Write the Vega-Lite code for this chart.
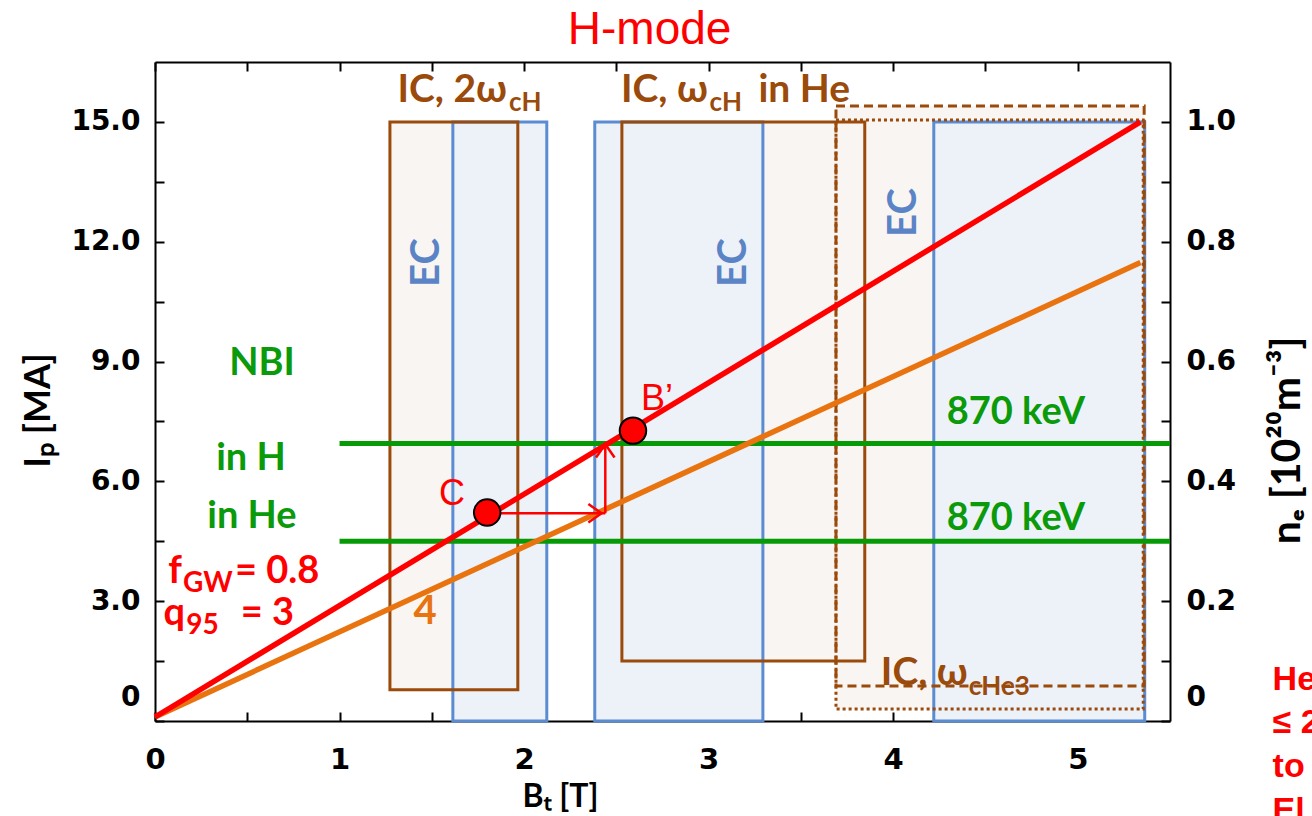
{
  "$schema": "https://vega.github.io/schema/vega-lite/v6.json",
  "width": 1015,
  "height": 659,
  "autosize": {"type": "none"},
  "padding": {"left": 155, "top": 62, "right": 142, "bottom": 95},
  "background": "white",
  "config": {"view": {"stroke": null}},
  "datasets": {
    "icFill": [
      {"x1": 1.273, "x2": 1.966, "y1": 0.78, "y2": 15.0},
      {"x1": 2.53, "x2": 3.846, "y1": 1.5, "y2": 15.0},
      {"x1": 3.69, "x2": 5.36, "y1": 0.3, "y2": 15.4}
    ],
    "ec": [
      {"x1": 1.614, "x2": 2.123, "y1": 0, "y2": 15.0},
      {"x1": 2.383, "x2": 3.294, "y1": 0, "y2": 15.0},
      {"x1": 4.22, "x2": 5.363, "y1": 0, "y2": 15.0}
    ],
    "icLine": [
      {"x1": 1.273, "x2": 1.966, "y1": 0.78, "y2": 15.0},
      {"x1": 2.53, "x2": 3.846, "y1": 1.5, "y2": 15.0}
    ],
    "icDash": [{"x1": 3.69, "x2": 5.36, "y1": 0.875, "y2": 15.4}],
    "icDot": [{"x1": 3.69, "x2": 5.355, "y1": 0.3, "y2": 15.05}],
    "nbi": [
      {"x1": 1.0, "x2": 5.5, "y": 6.95},
      {"x1": 1.0, "x2": 5.5, "y": 4.5}
    ],
    "redLine": [{"x": 0, "y": 0.1}, {"x": 5.34, "y": 15.0}],
    "orangeLine": [{"x": 0, "y": 0.1}, {"x": 5.34, "y": 11.48}],
    "arrowSeg": [
      {"x1": 1.8, "x2": 2.44, "y1": 5.2, "y2": 5.2},
      {"x1": 2.44, "x2": 2.44, "y1": 5.2, "y2": 6.9}
    ],
    "arrowRight": [{"x": 2.42, "y": 5.2}],
    "arrowUp": [{"x": 2.44, "y": 6.93}],
    "points": [{"x": 1.80, "y": 5.22}, {"x": 2.59, "y": 7.27}],
    "titleText": [{"x": 2.68, "y": 16.96, "t": "H-mode"}],
    "brownMainR": [
      {"x": 1.907, "y": 15.5, "t": "IC, 2ω"},
      {"x": 2.996, "y": 15.5, "t": "IC, ω"},
      {"x": 4.404, "y": 0.9, "t": "IC, ω"}
    ],
    "brownMainL": [{"x": 3.27, "y": 15.5, "t": "in He"}],
    "brownSub": [
      {"x": 1.918, "y": 15.28, "t": "cH"},
      {"x": 3.005, "y": 15.28, "t": "cH"},
      {"x": 4.41, "y": 0.65, "t": "cHe3"}
    ],
    "ecText": [
      {"x": 1.473, "y": 11.48, "t": "EC"},
      {"x": 3.14, "y": 11.48, "t": "EC"},
      {"x": 4.06, "y": 12.73, "t": "EC"}
    ],
    "greenText": [
      {"x": 0.58, "y": 8.95, "t": "NBI"},
      {"x": 0.52, "y": 6.55, "t": "in H"},
      {"x": 0.525, "y": 5.1, "t": "in He"},
      {"x": 4.665, "y": 7.72, "t": "870 keV"},
      {"x": 4.665, "y": 5.07, "t": "870 keV"}
    ],
    "redMainR": [
      {"x": 0.146, "y": 3.45, "t": "f"},
      {"x": 0.1625, "y": 2.4, "t": "q"}
    ],
    "redSub": [
      {"x": 0.152, "y": 3.22, "t": "GW"},
      {"x": 0.17, "y": 2.175, "t": "95"}
    ],
    "redMainL": [
      {"x": 0.433, "y": 3.45, "t": "= 0.8"},
      {"x": 0.465, "y": 2.4, "t": "= 3"}
    ],
    "orangeText": [{"x": 1.463, "y": 2.73, "t": "4"}],
    "pointText": [
      {"x": 1.61, "y": 5.68, "t": "C"},
      {"x": 2.72, "y": 8.07, "t": "B’"}
    ],
    "sideText": [
      {"x": 6.056, "y": 0.775, "t": "He"},
      {"x": 6.056, "y": -0.3, "t": "≤ 2"},
      {"x": 6.056, "y": -1.4, "t": "to"},
      {"x": 6.056, "y": -2.5, "t": "El"}
    ]
  },
  "layer": [
    {
      "data": {"name": "icFill"},
      "mark": {"type": "rect", "fill": "#f9f5f2", "strokeWidth": 0},
      "encoding": {
        "x": {"field": "x1", "type": "quantitative", "scale": {"domain": [0, 5.5]}, "axis": null},
        "x2": {"field": "x2"},
        "y": {"field": "y1", "type": "quantitative", "scale": {"domain": [0, 16.5]}, "axis": null},
        "y2": {"field": "y2"}
      }
    },
    {
      "data": {"name": "ec"},
      "mark": {"type": "rect", "fill": "#edf1f8", "stroke": "#5b8cd2", "strokeWidth": 3},
      "encoding": {
        "x": {"field": "x1", "type": "quantitative", "scale": {"domain": [0, 5.5]}, "axis": null},
        "x2": {"field": "x2"},
        "y": {"field": "y1", "type": "quantitative", "scale": {"domain": [0, 16.5]}, "axis": null},
        "y2": {"field": "y2"}
      }
    },
    {
      "data": {"name": "icLine"},
      "mark": {"type": "rect", "fill": null, "fillOpacity": 0, "stroke": "#9a4a0a", "strokeWidth": 3},
      "encoding": {
        "x": {"field": "x1", "type": "quantitative", "scale": {"domain": [0, 5.5]}, "axis": null},
        "x2": {"field": "x2"},
        "y": {"field": "y1", "type": "quantitative", "scale": {"domain": [0, 16.5]}, "axis": null},
        "y2": {"field": "y2"}
      }
    },
    {
      "data": {"name": "icDash"},
      "mark": {"type": "rect", "fill": null, "fillOpacity": 0, "stroke": "#9a4a0a", "strokeWidth": 3, "strokeDash": [9, 5]},
      "encoding": {
        "x": {"field": "x1", "type": "quantitative", "scale": {"domain": [0, 5.5]}, "axis": null},
        "x2": {"field": "x2"},
        "y": {"field": "y1", "type": "quantitative", "scale": {"domain": [0, 16.5]}, "axis": null},
        "y2": {"field": "y2"}
      }
    },
    {
      "data": {"name": "icDot"},
      "mark": {"type": "rect", "fill": null, "fillOpacity": 0, "stroke": "#9a4a0a", "strokeWidth": 3, "strokeDash": [3, 3]},
      "encoding": {
        "x": {"field": "x1", "type": "quantitative", "scale": {"domain": [0, 5.5]}, "axis": null},
        "x2": {"field": "x2"},
        "y": {"field": "y1", "type": "quantitative", "scale": {"domain": [0, 16.5]}, "axis": null},
        "y2": {"field": "y2"}
      }
    },
    {
      "data": {"name": "nbi"},
      "mark": {"type": "rule", "color": "#079a07", "strokeWidth": 5},
      "encoding": {
        "x": {"field": "x1", "type": "quantitative", "scale": {"domain": [0, 5.5]},
          "axis": {"orient": "bottom", "values": [0, 0.5, 1, 1.5, 2, 2.5, 3, 3.5, 4, 4.5, 5],
            "labelExpr": "datum.value % 1 === 0 ? format(datum.value, 'd') : ''",
            "labelFont": "DejaVu Sans", "labelFontWeight": "bold", "labelFontSize": 29, "labelColor": "black",
            "labelPadding": 33, "labelOverlap": false, "labelFlush": false,
            "tickSize": -9, "tickWidth": 2, "tickColor": "black", "domainColor": "black", "domainWidth": 2, "grid": false,
            "title": "Bₜ [T]", "titleFont": "Lato", "titleFontSize": 32, "titleFontWeight": "bold", "titleColor": "black",
            "titleX": 405, "titleY": 75, "titleAlign": "center", "titleBaseline": "middle", "titleAngle": 0}},
        "x2": {"field": "x2"},
        "y": {"field": "y", "type": "quantitative", "scale": {"domain": [0, 16.5]},
          "axis": {"orient": "left", "values": [0, 1.5, 3, 4.5, 6, 7.5, 9, 10.5, 12, 13.5, 15],
            "labelExpr": "datum.value % 3 === 0 ? (datum.value === 0 ? '0' : format(datum.value, '.1f')) : ''",
            "labelFont": "DejaVu Sans", "labelFontWeight": "bold", "labelFontSize": 28, "labelColor": "black",
            "labelPadding": 24, "labelOverlap": false, "labelFlush": false,
            "labelOffset": {"condition": {"test": "datum.value === 0", "value": -24}, "value": 0},
            "tickSize": -9, "tickWidth": 2, "tickColor": "black", "domainColor": "black", "domainWidth": 2, "grid": false,
            "title": "Iₚ [MA]", "titleFont": "Lato", "titleFontSize": 36, "titleFontWeight": "bold", "titleColor": "black",
            "titleX": -117, "titleY": 348, "titleAlign": "center", "titleBaseline": "middle", "titleAngle": 270}}
      }
    },
    {
      "data": {"name": "orangeLine"},
      "mark": {"type": "line", "color": "#e8730f", "strokeWidth": 5.5},
      "encoding": {
        "x": {"field": "x", "type": "quantitative", "scale": {"domain": [0, 5.5]}, "axis": null},
        "y": {"field": "y", "type": "quantitative", "scale": {"domain": [0, 16.5]}, "axis": null}
      }
    },
    {
      "data": {"name": "redLine"},
      "mark": {"type": "line", "color": "#ff0000", "strokeWidth": 5.5},
      "encoding": {
        "x": {"field": "x", "type": "quantitative", "scale": {"domain": [0, 5.5]},
          "axis": {"orient": "top", "values": [0, 0.5, 1, 1.5, 2, 2.5, 3, 3.5, 4, 4.5, 5], "labels": false,
            "tickSize": -9, "tickWidth": 2, "tickColor": "black", "domainColor": "black", "domainWidth": 2, "grid": false, "title": null}},
        "y": {"field": "y", "type": "quantitative", "scale": {"domain": [0, 16.5]},
          "axis": {"orient": "right", "values": [0, 1.5, 3, 4.5, 6, 7.5, 9, 10.5, 12, 13.5, 15],
            "labelExpr": "datum.value % 3 === 0 ? (datum.value === 0 ? '0' : format(datum.value / 15, '.1f')) : ''",
            "labelFont": "DejaVu Sans", "labelFontWeight": "bold", "labelFontSize": 28, "labelColor": "black",
            "labelPadding": 25, "labelOverlap": false, "labelFlush": false,
            "labelOffset": {"condition": {"test": "datum.value === 0", "value": -24}, "value": 0},
            "tickSize": -9, "tickWidth": 2, "tickColor": "black", "domainColor": "black", "domainWidth": 2, "grid": false,
            "title": "nₑ [10²⁰m⁻³]", "titleFont": "Lato", "titleFontSize": 41, "titleFontWeight": "bold", "titleColor": "black",
            "titleX": 117, "titleY": 378, "titleAlign": "center", "titleBaseline": "middle", "titleAngle": 270}}
      }
    },
    {
      "data": {"name": "arrowSeg"},
      "mark": {"type": "rule", "color": "#ff0000", "strokeWidth": 2.5},
      "encoding": {
        "x": {"field": "x1", "type": "quantitative", "scale": {"domain": [0, 5.5]}, "axis": null},
        "x2": {"field": "x2"},
        "y": {"field": "y1", "type": "quantitative", "scale": {"domain": [0, 16.5]}, "axis": null},
        "y2": {"field": "y2"}
      }
    },
    {
      "data": {"name": "arrowRight"},
      "mark": {"type": "point", "shape": "M-1,-0.7L0,0L-1,0.7", "size": 700, "filled": false, "stroke": "#ff0000", "strokeWidth": 2.5, "opacity": 1},
      "encoding": {
        "x": {"field": "x", "type": "quantitative", "scale": {"domain": [0, 5.5]}, "axis": null},
        "y": {"field": "y", "type": "quantitative", "scale": {"domain": [0, 16.5]}, "axis": null}
      }
    },
    {
      "data": {"name": "arrowUp"},
      "mark": {"type": "point", "shape": "M-0.7,1L0,0L0.7,1", "size": 700, "filled": false, "stroke": "#ff0000", "strokeWidth": 2.5, "opacity": 1},
      "encoding": {
        "x": {"field": "x", "type": "quantitative", "scale": {"domain": [0, 5.5]}, "axis": null},
        "y": {"field": "y", "type": "quantitative", "scale": {"domain": [0, 16.5]}, "axis": null}
      }
    },
    {
      "data": {"name": "points"},
      "mark": {"type": "point", "shape": "circle", "size": 700, "filled": true, "fill": "#ff0000", "stroke": "black", "strokeWidth": 2, "opacity": 1},
      "encoding": {
        "x": {"field": "x", "type": "quantitative", "scale": {"domain": [0, 5.5]}, "axis": null},
        "y": {"field": "y", "type": "quantitative", "scale": {"domain": [0, 16.5]}, "axis": null}
      }
    },
    {
      "data": {"name": "titleText"},
      "mark": {"type": "text", "font": "Liberation Sans", "fontSize": 46, "color": "#ff0000", "align": "center", "baseline": "alphabetic"},
      "encoding": {
        "x": {"field": "x", "type": "quantitative", "scale": {"domain": [0, 5.5]}, "axis": null},
        "y": {"field": "y", "type": "quantitative", "scale": {"domain": [0, 16.5]}, "axis": null},
        "text": {"field": "t"}
      }
    },
    {
      "data": {"name": "brownMainR"},
      "mark": {"type": "text", "font": "Lato", "fontWeight": "bold", "fontSize": 39, "color": "#9a4a0a", "align": "right", "baseline": "alphabetic"},
      "encoding": {
        "x": {"field": "x", "type": "quantitative", "scale": {"domain": [0, 5.5]}, "axis": null},
        "y": {"field": "y", "type": "quantitative", "scale": {"domain": [0, 16.5]}, "axis": null},
        "text": {"field": "t"}
      }
    },
    {
      "data": {"name": "brownMainL"},
      "mark": {"type": "text", "font": "Lato", "fontWeight": "bold", "fontSize": 39, "color": "#9a4a0a", "align": "left", "baseline": "alphabetic"},
      "encoding": {
        "x": {"field": "x", "type": "quantitative", "scale": {"domain": [0, 5.5]}, "axis": null},
        "y": {"field": "y", "type": "quantitative", "scale": {"domain": [0, 16.5]}, "axis": null},
        "text": {"field": "t"}
      }
    },
    {
      "data": {"name": "brownSub"},
      "mark": {"type": "text", "font": "Lato", "fontWeight": "bold", "fontSize": 26, "color": "#9a4a0a", "align": "left", "baseline": "alphabetic"},
      "encoding": {
        "x": {"field": "x", "type": "quantitative", "scale": {"domain": [0, 5.5]}, "axis": null},
        "y": {"field": "y", "type": "quantitative", "scale": {"domain": [0, 16.5]}, "axis": null},
        "text": {"field": "t"}
      }
    },
    {
      "data": {"name": "ecText"},
      "mark": {"type": "text", "font": "Lato", "fontWeight": "bold", "fontSize": 40, "color": "#5b84c6", "align": "center", "baseline": "middle", "angle": 270},
      "encoding": {
        "x": {"field": "x", "type": "quantitative", "scale": {"domain": [0, 5.5]}, "axis": null},
        "y": {"field": "y", "type": "quantitative", "scale": {"domain": [0, 16.5]}, "axis": null},
        "text": {"field": "t"}
      }
    },
    {
      "data": {"name": "greenText"},
      "mark": {"type": "text", "font": "Lato", "fontWeight": "bold", "fontSize": 38, "color": "#0a9a0a", "align": "center", "baseline": "middle"},
      "encoding": {
        "x": {"field": "x", "type": "quantitative", "scale": {"domain": [0, 5.5]}, "axis": null},
        "y": {"field": "y", "type": "quantitative", "scale": {"domain": [0, 16.5]}, "axis": null},
        "text": {"field": "t"}
      }
    },
    {
      "data": {"name": "redMainR"},
      "mark": {"type": "text", "font": "Lato", "fontWeight": "bold", "fontSize": 38, "color": "#ff0000", "align": "right", "baseline": "alphabetic"},
      "encoding": {
        "x": {"field": "x", "type": "quantitative", "scale": {"domain": [0, 5.5]}, "axis": null},
        "y": {"field": "y", "type": "quantitative", "scale": {"domain": [0, 16.5]}, "axis": null},
        "text": {"field": "t"}
      }
    },
    {
      "data": {"name": "redSub"},
      "mark": {"type": "text", "font": "Lato", "fontWeight": "bold", "fontSize": 28, "color": "#ff0000", "align": "left", "baseline": "alphabetic"},
      "encoding": {
        "x": {"field": "x", "type": "quantitative", "scale": {"domain": [0, 5.5]}, "axis": null},
        "y": {"field": "y", "type": "quantitative", "scale": {"domain": [0, 16.5]}, "axis": null},
        "text": {"field": "t"}
      }
    },
    {
      "data": {"name": "redMainL"},
      "mark": {"type": "text", "font": "Lato", "fontWeight": "bold", "fontSize": 38, "color": "#ff0000", "align": "left", "baseline": "alphabetic"},
      "encoding": {
        "x": {"field": "x", "type": "quantitative", "scale": {"domain": [0, 5.5]}, "axis": null},
        "y": {"field": "y", "type": "quantitative", "scale": {"domain": [0, 16.5]}, "axis": null},
        "text": {"field": "t"}
      }
    },
    {
      "data": {"name": "orangeText"},
      "mark": {"type": "text", "font": "Lato", "fontWeight": "bold", "fontSize": 40, "color": "#e8730f", "align": "center", "baseline": "middle"},
      "encoding": {
        "x": {"field": "x", "type": "quantitative", "scale": {"domain": [0, 5.5]}, "axis": null},
        "y": {"field": "y", "type": "quantitative", "scale": {"domain": [0, 16.5]}, "axis": null},
        "text": {"field": "t"}
      }
    },
    {
      "data": {"name": "pointText"},
      "mark": {"type": "text", "font": "Liberation Sans", "fontSize": 36, "color": "#ff0000", "align": "center", "baseline": "middle"},
      "encoding": {
        "x": {"field": "x", "type": "quantitative", "scale": {"domain": [0, 5.5]}, "axis": null},
        "y": {"field": "y", "type": "quantitative", "scale": {"domain": [0, 16.5]}, "axis": null},
        "text": {"field": "t"}
      }
    },
    {
      "data": {"name": "sideText"},
      "mark": {"type": "text", "font": "Liberation Sans", "fontWeight": "bold", "fontSize": 34, "color": "#ff0000", "align": "left", "baseline": "alphabetic"},
      "encoding": {
        "x": {"field": "x", "type": "quantitative", "scale": {"domain": [0, 5.5]}, "axis": null},
        "y": {"field": "y", "type": "quantitative", "scale": {"domain": [0, 16.5]}, "axis": null},
        "text": {"field": "t"}
      }
    }
  ]
}
